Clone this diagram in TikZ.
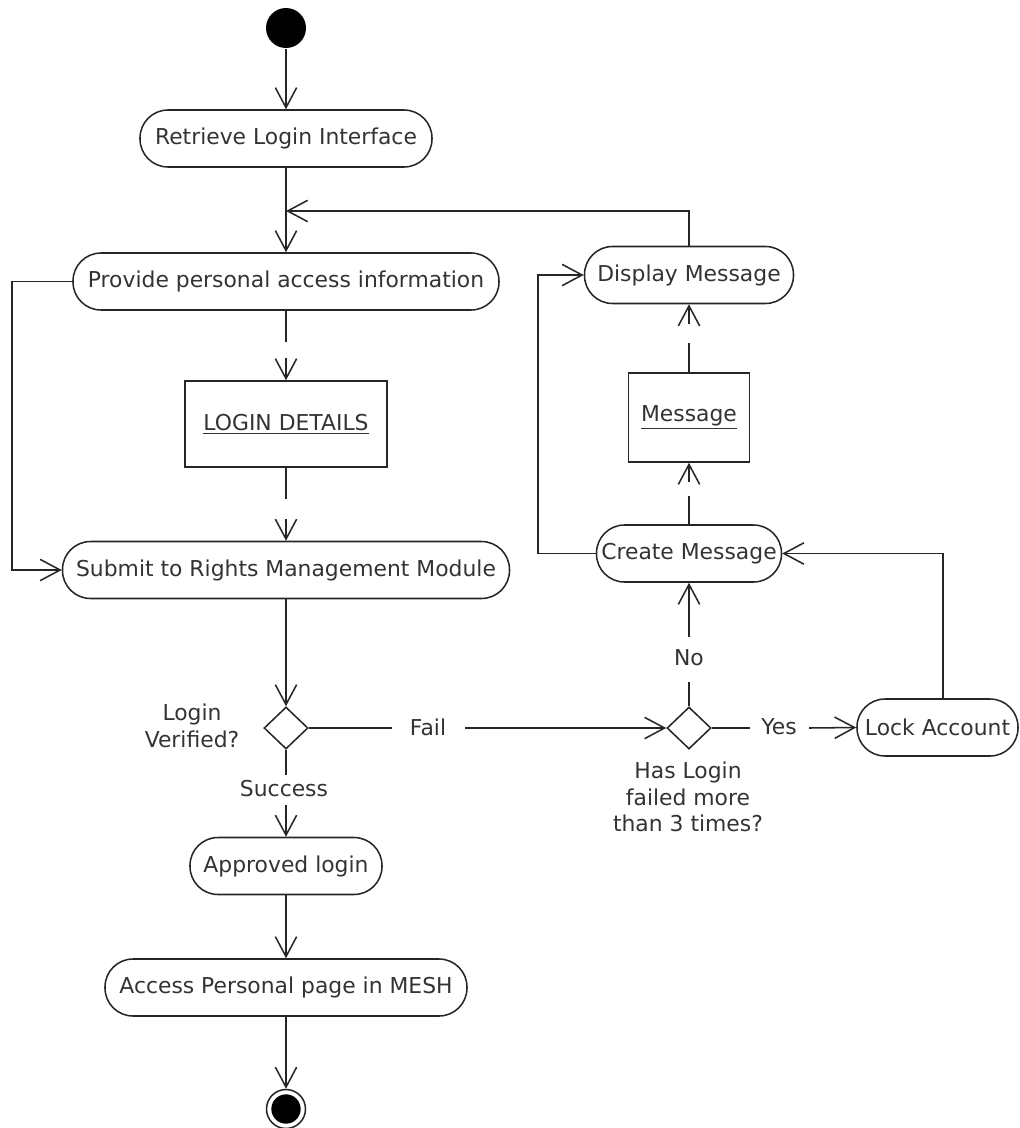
\documentclass[tikz,border=0pt]{standalone}
\usepackage{fontspec}
\setmainfont{DejaVu Sans}
\usetikzlibrary{arrows.meta,shapes.geometric,calc}
\begin{document}
\begin{tikzpicture}[x=0.75pt,y=-0.75pt,
  >={Straight Barb[length=15pt,width=16pt]},
  line width=1.15pt, draw=black!85,
  every node/.style={font=\fontsize{16.4}{20}\selectfont, text=black!80},
  act/.style={draw=black!85, rounded corners=21pt, minimum height=42.75pt, minimum width=#1, inner sep=0pt},
  obj/.style={draw=black!85, minimum width=#1, inner sep=0pt},
  dec/.style={draw=black!85, diamond, minimum width=33pt, minimum height=31.5pt, inner sep=0pt},
  flow/.style={->}
]
\useasboundingbox (0,0) rectangle (1020,1128);

% initial and final nodes
\node[circle, fill=black, minimum size=30pt, inner sep=0pt] (start) at (286,28) {};
\node[circle, draw=black!85, minimum size=29.25pt, inner sep=0pt] (end) at (286,1109) {};
\node[circle, fill=black, minimum size=22pt, inner sep=0pt] (endin) at (end) {};

% actions
\node[act=219pt]    (retr) at (286,138.5) {Retrieve Login Interface};
\node[act=319.5pt]  (prov) at (286,281.5) {Provide personal access information};
\node[act=335.25pt] (sub)  at (286,570)   {Submit to Rights Management Module};
\node[act=144pt]    (appr) at (286,866)   {Approved login};
\node[act=271.5pt]  (acc)  at (286,987.5) {Access Personal page in MESH};
\node[act=156.75pt] (disp) at (689,275)   {Display Message};
\node[act=138.75pt] (cre)  at (689,553.5) {Create Message};
\node[act=120.75pt] (lock) at (937.5,727.5) {Lock Account};

% objects
\node[obj=151.5pt, minimum height=64.5pt]  (ld)  at (286,424)   {\underline{LOGIN DETAILS}};
\node[obj=90.75pt, minimum height=66.75pt] (msg) at (689,417.5) {\underline{Message}};

% decisions
\node[dec] (d1) at (286,728) {};
\node[dec] (d2) at (689,728) {};

% texts
\node[align=center] (lv) at (192,726) {Login\\Verified?};
\node[align=center] (hl) at (688,797) {Has Login\\failed more\\than 3 times?};
\node (fail) at (428,727) {Fail};
\node (yes)  at (779,727) {Yes};
\node (no)   at (689,658) {No};
\node (succ) at (284,789) {Success};

% gap ends and bends
\coordinate (jn) at (286,211);
\coordinate (lp) at (12,281.5);
\coordinate (cl) at (538,275);
\coordinate (lt) at (943,699);
\coordinate (g1a) at (286,342);
\coordinate (g1b) at (286,358);
\coordinate (g2a) at (286,499);
\coordinate (g2b) at (286,519);
\coordinate (g3a) at (689,343);
\coordinate (g3b) at (689,324);
\coordinate (g4a) at (689,496);
\coordinate (g4b) at (689,482);
\coordinate (fA) at (392,728);
\coordinate (fB) at (465,728);
\coordinate (yA) at (750,728);
\coordinate (yB) at (809,728);
\coordinate (nA) at (689,682);
\coordinate (nB) at (689,637);
\coordinate (sA) at (286,775);
\coordinate (sB) at (286,805);

% control flows
\draw[flow] (start) -- (retr);
\draw[flow] (retr) -- (prov);
\draw[flow] (disp.north) |- (jn);
\draw[flow] (prov.west) -- (lp) |- (sub.west);
\draw[flow] (sub) -- (d1);
\draw (d1.east) -- (fA);
\draw[flow] (fB) -- (d2.west);
\draw (d1.south) -- (sA);
\draw[flow] (sB) -- (appr);
\draw[flow] (appr) -- (acc);
\draw[flow] (acc) -- (end);
\draw (d2.east) -- (yA);
\draw[flow] (yB) -- (lock.west);
\draw (d2.north) -- (nA);
\draw[flow] (nB) -- (cre.south);
\draw[flow] (lt) |- (cre.east);
\draw[flow] (cre.west) -| (cl) -- (disp.west);

% object flows
\draw (prov.south) -- (g1a);
\draw[flow] (g1b) -- (ld.north);
\draw (ld.south) -- (g2a);
\draw[flow] (g2b) -- (sub.north);
\draw (msg.north) -- (g3a);
\draw[flow] (g3b) -- (disp.south);
\draw (cre.north) -- (g4a);
\draw[flow] (g4b) -- (msg.south);
\end{tikzpicture}
\end{document}
